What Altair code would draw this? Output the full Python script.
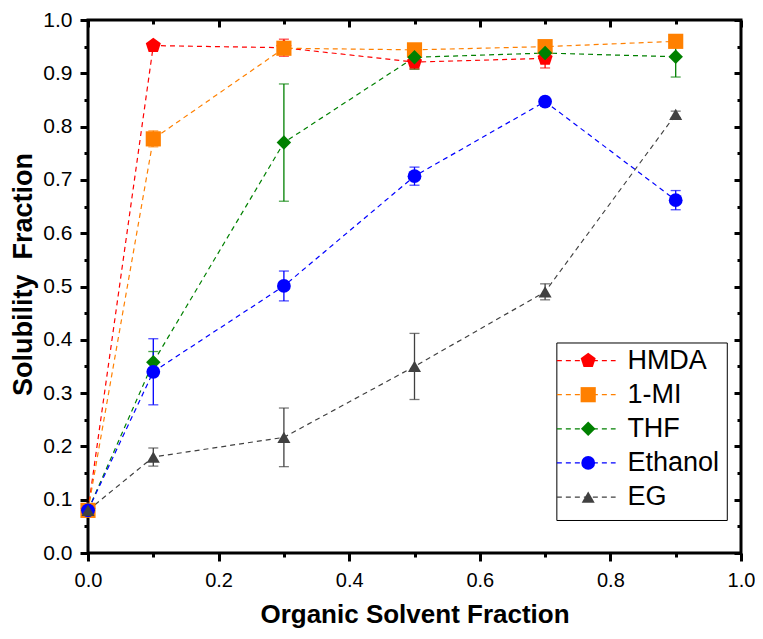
import altair as alt
import pandas as pd

# ---------------- data ----------------
series = ["HMDA", "1-MI", "THF", "Ethanol", "EG"]
colors = ["#FF0000", "#FF8000", "#008000", "#0000FF", "#404040"]
x_vals = [0.0, 0.1, 0.3, 0.5, 0.7, 0.9]

hmda = [0.08, 0.952, 0.948, 0.921, 0.928]
hmda_err = [0.0, 0.0, 0.016, 0.013, 0.018]
mi = [0.08, 0.777, 0.947, 0.944, 0.950, 0.960]
mi_err = [0.0, 0.015, 0.0, 0.008, 0.0, 0.008]
thf = [0.08, 0.358, 0.770, 0.930, 0.938, 0.931]
thf_err = [0.0, 0.020, 0.110, 0.022, 0.010, 0.038]
eth = [0.08, 0.340, 0.501, 0.707, 0.847, 0.662]
eth_err = [0.0, 0.062, 0.028, 0.017, 0.0, 0.018]
eg = [0.08, 0.180, 0.217, 0.350, 0.490, 0.823]
eg_err = [0.0, 0.017, 0.055, 0.062, 0.015, 0.006]

x_major = [0.0, 0.2, 0.4, 0.6, 0.8, 1.0]
x_minor = [0.1, 0.3, 0.5, 0.7, 0.9]
y_major = [0.0, 0.1, 0.2, 0.3, 0.4, 0.5, 0.6, 0.7, 0.8, 0.9, 1.0]
y_minor = [0.05, 0.15, 0.25, 0.35, 0.45, 0.55, 0.65, 0.75, 0.85, 0.95]

pentagon = "M0,-1L0.951,-0.309L0.588,0.809L-0.588,0.809L-0.951,-0.309Z"
shapes = [pentagon, "square", "diamond", "circle", "triangle-up"]
sizes = [250, 170, 240, 180, 225]

# ---------------- tables ----------------
rows = []
for name, ys_, es_ in zip(series, [hmda, mi, thf, eth, eg],
                          [hmda_err, mi_err, thf_err, eth_err, eg_err]):
    for xv, yv, ev in zip(x_vals, ys_, es_):
        rows.append(dict(series=name, x=xv, y=yv, err=ev, lo=yv - ev, hi=yv + ev))
df = pd.DataFrame(rows)
leg = pd.DataFrame({"series": series, "idx": list(range(len(series)))})
box = pd.DataFrame({"k": [0]})

FONT = "Liberation Sans"
xs = alt.Scale(domain=[0, 1], nice=False, zero=False)
ys = alt.Scale(domain=[0, 1], nice=False, zero=False)
col = alt.Color("series:N", scale=alt.Scale(domain=series, range=colors), legend=None)
shp = alt.Shape("series:N", scale=alt.Scale(domain=series, range=shapes), legend=None)
siz = alt.Size("series:N", scale=alt.Scale(domain=series, range=sizes), legend=None)


def axis_layer(xaxis, yaxis):
    return alt.Chart(df).mark_point(opacity=0).encode(
        x=alt.X("x:Q", scale=xs, axis=xaxis),
        y=alt.Y("y:Q", scale=ys, axis=yaxis),
    )


common = dict(grid=False, domain=False, tickColor="black", labelColor="black",
              labelFont=FONT, titleFont=FONT, titleColor="black", labelFlush=False)

ax_main = axis_layer(
    alt.Axis(orient="bottom", values=x_major, format=".1f", tickSize=8, tickWidth=3,
             labelFontSize=20, labelPadding=9, title="Organic Solvent Fraction",
             titleFontSize=26, titleFontWeight="bold", titlePadding=11, **common),
    alt.Axis(orient="left", values=y_major, format=".1f", tickSize=8, tickWidth=3,
             labelFontSize=21, labelPadding=8, title="Solubility\u00a0 Fraction",
             titleFontSize=27, titleFontWeight="bold", titlePadding=5, titleY=254,
             **common),
)
ax_minor = axis_layer(
    alt.Axis(orient="bottom", values=x_minor, tickSize=4, tickWidth=3, labels=False,
             title="", **common),
    alt.Axis(orient="left", values=y_minor, tickSize=4, tickWidth=3, labels=False,
             title="", **common),
)
ax_top = axis_layer(
    alt.Axis(orient="top", values=x_major, tickSize=7, offset=-7, tickWidth=3,
             labels=False, title="", **common),
    alt.Axis(orient="right", values=y_major, tickSize=7, offset=-7, tickWidth=3,
             labels=False, title="", **common),
)
ax_top_minor = axis_layer(
    alt.Axis(orient="top", values=x_minor, tickSize=4, offset=-4, tickWidth=3,
             labels=False, title="", **common),
    alt.Axis(orient="right", values=y_minor, tickSize=4, offset=-4, tickWidth=3,
             labels=False, title="", **common),
)

base = alt.Chart(df)
X = alt.X("x:Q", scale=xs, axis=None)
Y = alt.Y("y:Q", scale=ys, axis=None)

lines = base.mark_line(strokeDash=[5, 4], strokeWidth=1.2).encode(
    x=X, y=Y, color=col, detail="series:N", order="x:Q")

errs = base.transform_filter("datum.err > 0")
err_rule = errs.mark_rule(strokeWidth=1.3).encode(
    x=X, y=alt.Y("lo:Q", scale=ys, axis=None), y2="hi:Q", color=col)
cap_lo = errs.mark_tick(orient="horizontal", size=10, thickness=1.3).encode(
    x=X, y=alt.Y("lo:Q", scale=ys, axis=None), color=col)
cap_hi = errs.mark_tick(orient="horizontal", size=10, thickness=1.3).encode(
    x=X, y=alt.Y("hi:Q", scale=ys, axis=None), color=col)

points = base.mark_point(filled=True, opacity=1).encode(
    x=X, y=Y, color=col, shape=shp, size=siz)

# ---------------- legend (inside plot, lower right) ----------------
LX0, LX1, LY0, LY1 = 0.718, 0.979, 0.061, 0.394
ROW0, STEP = 0.361, 0.064
LINE0, LINE1, MARK, TEXT = 0.718, 0.808, 0.766, 0.826

leg_box = alt.Chart(box).transform_calculate(
    a=f"{LX0}", b=f"{LX1}", c=f"{LY0}", d=f"{LY1}"
).mark_rect(fill="white", stroke="black", strokeWidth=1).encode(
    x=alt.X("a:Q", scale=xs, axis=None), x2="b:Q",
    y=alt.Y("c:Q", scale=ys, axis=None), y2="d:Q")

legb = alt.Chart(leg).transform_calculate(
    ly=f"{ROW0} - datum.idx * {STEP}", l0=f"{LINE0}", l1=f"{LINE1}",
    lm=f"{MARK}", lt=f"{TEXT}")
leg_lines = legb.mark_rule(strokeDash=[5, 4], strokeWidth=1.2).encode(
    x=alt.X("l0:Q", scale=xs, axis=None), x2="l1:Q",
    y=alt.Y("ly:Q", scale=ys, axis=None), color=col)
leg_pts = legb.mark_point(filled=True, opacity=1).encode(
    x=alt.X("lm:Q", scale=xs, axis=None), y=alt.Y("ly:Q", scale=ys, axis=None),
    color=col, shape=shp, size=siz)
leg_text = legb.mark_text(align="left", baseline="middle", fontSize=27, font=FONT,
                          color="black").encode(
    x=alt.X("lt:Q", scale=xs, axis=None), y=alt.Y("ly:Q", scale=ys, axis=None),
    text="series:N")

chart = alt.layer(
    ax_main, ax_minor, ax_top, ax_top_minor,
    lines, err_rule, cap_lo, cap_hi, points,
    leg_box, leg_lines, leg_pts, leg_text,
).resolve_axis(x="independent", y="independent").properties(
    width=653, height=533,
    padding={"left": 80, "top": 12, "right": 14, "bottom": 78},
    autosize=alt.AutoSizeParams(type="none"),
).configure_view(stroke="black", strokeWidth=3)

chart.save("out.html", embed_options={"renderer": "svg", "actions": False})
